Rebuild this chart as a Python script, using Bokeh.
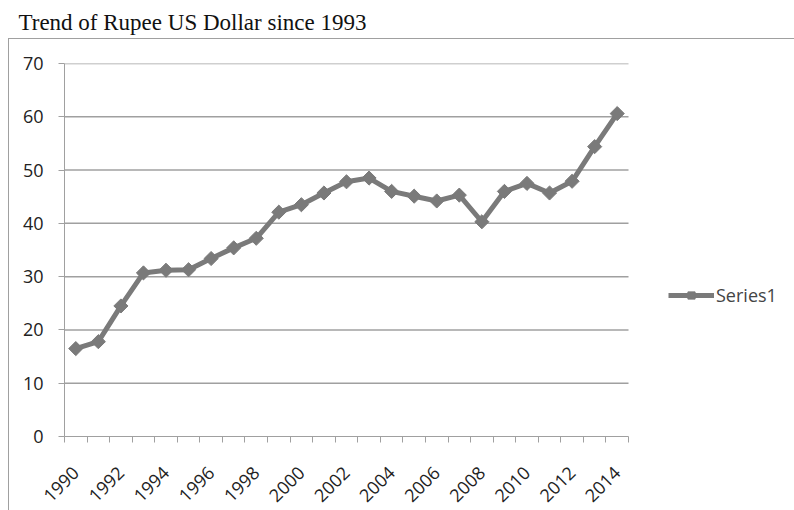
import math
from bokeh.plotting import figure
from bokeh.layouts import column
from bokeh.models import (Range1d, FixedTicker, Legend, LegendItem, Label)
from bokeh.embed import file_html
from bokeh.resources import INLINE

title_text = "Trend of Rupee US Dollar since 1993"
years = [1990, 1991, 1992, 1993, 1994, 1995, 1996, 1997, 1998, 1999, 2000, 2001, 2002,
         2003, 2004, 2005, 2006, 2007, 2008, 2009, 2010, 2011, 2012, 2013, 2014]
rate = [16.5, 17.8, 24.5, 30.7, 31.2, 31.3, 33.4, 35.4, 37.2, 42.1, 43.5, 45.7, 47.8,
        48.5, 46.0, 45.1, 44.2, 45.3, 40.3, 46.0, 47.5, 45.7, 47.9, 54.4, 60.6]
series_name = "Series1"
y_ticks = [0, 10, 20, 30, 40, 50, 60, 70]
x_label_years = years[::2]

GRAY = "#a0a0a0"
LINE = "#7a7a7a"
FONT = "Open Sans"
W = 794

# ---- title strip ----
t = figure(width=W, height=38, output_backend="svg", toolbar_location=None,
           x_axis_location=None, y_axis_location=None,
           x_range=Range1d(0, 1), y_range=Range1d(0, 1),
           min_border_left=0, min_border_right=0, min_border_top=0, min_border_bottom=0)
t.frame_align = False
t.outline_line_color = None
t.xgrid.visible = False
t.ygrid.visible = False
t.add_layout(Label(x=18, y=16, x_units="screen", y_units="screen", text=title_text,
                   text_font="Liberation Serif", text_font_size="23px",
                   text_baseline="alphabetic", text_color="#111111"))

# ---- chart ----
H = 472
frame_left, frame_top, frame_bottom = 64, 25, 73
px_per_year = 564 / len(years)
x_start = years[0] - 0.5
x_end = x_start + (W - frame_left) / px_per_year

p = figure(width=W, height=H, output_backend="svg", toolbar_location=None,
           x_range=Range1d(x_start, x_end), y_range=Range1d(0, 70),
           min_border_left=frame_left, min_border_right=0,
           min_border_top=frame_top, min_border_bottom=frame_bottom)
p.frame_align = False
p.outline_line_color = None
p.background_fill_alpha = 0
p.border_fill_alpha = 0
p.styles = {
    "background-color": "white",
    "background-image": "linear-gradient(#a0a0a0, #a0a0a0), linear-gradient(#a0a0a0, #a0a0a0)",
    "background-size": "100% 1px, 1px 100%",
    "background-position": "8px 0px, 8px 0px",
    "background-repeat": "no-repeat, no-repeat",
}

# y axis
p.yaxis.ticker = FixedTicker(ticks=y_ticks)
p.yaxis.axis_line_color = GRAY
p.yaxis.major_tick_line_color = GRAY
p.yaxis.major_tick_out = 6
p.yaxis.major_tick_in = 0
p.yaxis.minor_tick_line_color = None
p.yaxis.major_label_standoff = 15
p.yaxis.major_label_text_font = FONT
p.yaxis.major_label_text_font_size = "18px"
p.yaxis.major_label_text_color = "#222222"

# x axis (category boundaries as minor ticks, labels on every other year)
p.xaxis.bounds = (years[0] - 0.5, years[-1] + 0.5)
p.xaxis.ticker = FixedTicker(ticks=x_label_years,
                             minor_ticks=[y - 0.5 for y in years] + [years[-1] + 0.5])
p.xaxis.axis_line_color = GRAY
p.xaxis.major_tick_out = 0
p.xaxis.major_tick_in = 0
p.xaxis.minor_tick_out = 6
p.xaxis.minor_tick_in = 0
p.xaxis.minor_tick_line_color = GRAY
p.xaxis.major_label_orientation = math.pi / 4
p.xaxis.major_label_standoff = 27
p.xaxis.major_label_text_font = FONT
p.xaxis.major_label_text_font_size = "18px"
p.xaxis.major_label_text_color = "#222222"

# horizontal gridlines limited to the category span
p.xgrid.visible = False
p.ygrid.visible = False
gy = y_ticks[1:]
p.segment(x0=[years[0] - 0.5] * len(gy), x1=[years[-1] + 0.5] * len(gy), y0=gy, y1=gy,
          line_color=GRAY, line_width=1.5)

ln = p.line(years, rate, line_color=LINE, line_width=5)
sc = p.scatter(years, rate, marker="square", angle=math.pi / 4, size=10,
               fill_color=LINE, line_color=LINE)

legend = Legend(items=[LegendItem(label=series_name, renderers=[ln, sc])],
                location=(604, 129), glyph_width=46, glyph_height=18,
                label_text_font=FONT, label_text_font_size="18px", label_standoff=2,
                padding=0, margin=0, border_line_color=None, background_fill_alpha=0)
p.add_layout(legend, "center")

layout = column(t, p, spacing=0)
open("out.html", "w").write(file_html(layout, INLINE))
